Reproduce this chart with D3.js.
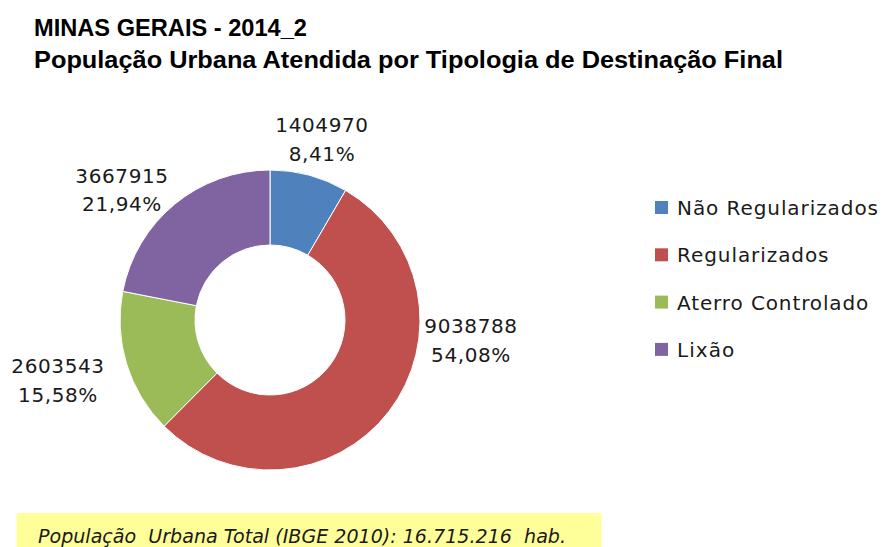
<!DOCTYPE html>
<html><head><meta charset="utf-8">
<script src="https://cdn.jsdelivr.net/npm/d3@7"></script>
<style>body{margin:0;background:#fff}svg{display:block}</style>
</head><body>
<svg id="c" width="882" height="547"></svg>
<script>
const categories = ["Não Regularizados", "Regularizados", "Aterro Controlado", "Lixão"];
const values = [1404970, 9038788, 2603543, 3667915];
const colors = ["#4F81BD", "#C0504D", "#9BBB59", "#8064A2"];
const titleLines = ["MINAS GERAIS - 2014_2", "População Urbana Atendida por Tipologia de Destinação Final"];
const footnote = "População  Urbana Total (IBGE 2010): 16.715.216  hab.";

// layout
const W = 882, H = 547;
const cx = 270, cy = 320, rOuter = 150, rInner = 75;
const labelOffsets = [[52, -181.5], [201, 19.5], [-212, 59.5], [-148, -131]];

const svg = d3.select("#c");
svg.append("rect").attr("width", W).attr("height", H).attr("fill", "#fff");

// titles
const tfont = "'Liberation Sans Narrow','Liberation Sans',Arial,sans-serif";
const t1 = svg.append("text").attr("x", 34).attr("y", 35.5).text(titleLines[0])
  .attr("font-family", tfont).attr("font-weight", "bold").attr("font-size", 23).attr("fill", "#000")
  .attr("textLength", 273).attr("lengthAdjust", "spacingAndGlyphs");
const t2 = svg.append("text").attr("x", 34).attr("y", 68).text(titleLines[1])
  .attr("font-family", tfont).attr("font-weight", "bold").attr("font-size", 23).attr("fill", "#000")
  .attr("textLength", 749).attr("lengthAdjust", "spacingAndGlyphs");

// donut
const total = d3.sum(values);
const pie = d3.pie().sort(null).value(d => d)(values);
const arc = d3.arc().innerRadius(rInner).outerRadius(rOuter);
const g = svg.append("g").attr("transform", `translate(${cx},${cy})`);
g.selectAll("path").data(pie).join("path")
  .attr("d", arc).attr("fill", (d, i) => colors[i])
  .attr("stroke", "#fff").attr("stroke-width", 1);

const pct = v => d3.format(".2f")(v / total * 100).replace(".", ",") + "%";
const lfont = "'DejaVu Sans',Verdana,sans-serif";
const lab = g.selectAll("g.lab").data(pie).join("g").attr("class", "lab")
  .attr("transform", (d, i) => `translate(${labelOffsets[i][0]},${labelOffsets[i][1]})`);
lab.append("text").attr("y", -6.5).attr("text-anchor", "middle")
  .attr("font-family", lfont).attr("font-size", 20).attr("letter-spacing", 0.6).attr("fill", "#1a1a1a")
  .text(d => d.data);
lab.append("text").attr("y", 22).attr("text-anchor", "middle")
  .attr("font-family", lfont).attr("font-size", 20).attr("letter-spacing", 0.6).attr("fill", "#1a1a1a")
  .text(d => pct(d.data));

// legend
const lg = svg.append("g").attr("transform", "translate(655,201)");
const rows = lg.selectAll("g").data(categories).join("g")
  .attr("transform", (d, i) => `translate(0,${i * 47.3})`);
rows.append("rect").attr("width", 13).attr("height", 13).attr("fill", (d, i) => colors[i]);
const ltexts = rows.append("text").attr("x", 22).attr("y", 14)
  .attr("font-family", lfont).attr("font-size", 20).attr("fill", "#1a1a1a").text(d => d);
// scale legend spacing to match reference width of first entry
const nat = ltexts.nodes()[0].getComputedTextLength();
const ratio = 201 / nat;
ltexts.each(function () {
  const w = this.getComputedTextLength();
  d3.select(this).attr("textLength", w * ratio).attr("lengthAdjust", "spacing");
});

// footnote box
svg.append("rect").attr("x", 16.5).attr("y", 513).attr("width", 585).attr("height", 40).attr("fill", "#FFFF99");
svg.append("text").attr("x", 38).attr("y", 543).attr("xml:space", "preserve").style("white-space", "pre")
  .attr("font-family", "'DejaVu Sans',sans-serif").attr("font-style", "italic").attr("font-size", 20)
  .attr("fill", "#1a1a1a").attr("textLength", 528).attr("lengthAdjust", "spacingAndGlyphs")
  .text(footnote);
</script>
</body></html>
